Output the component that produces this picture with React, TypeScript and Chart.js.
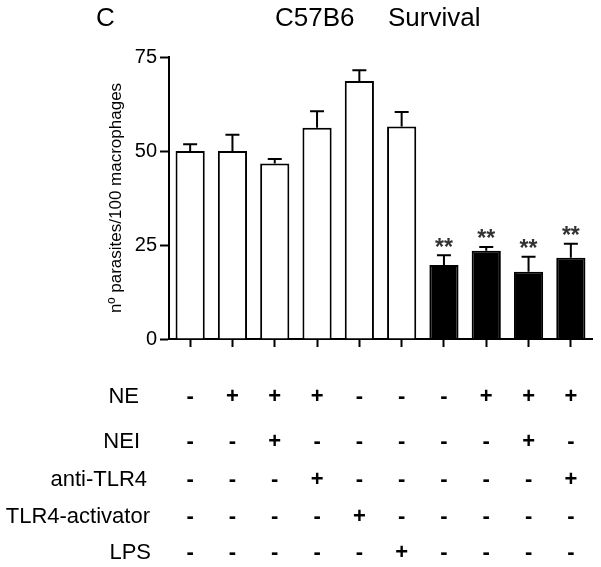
import React, { useEffect, useRef } from "react";
import { Chart, registerables } from "chart.js";

Chart.register(...registerables);

const categories = ["1", "2", "3", "4", "5", "6", "7", "8", "9", "10"];
const means = [50, 50, 46.7, 56.2, 68.6, 56.5, 19.7, 23.5, 17.9, 21.6];
const errors = [1.8, 4.3, 1.2, 4.4, 2.9, 3.9, 2.6, 1.0, 4.0, 3.7];
const significance = ["", "", "", "", "", "", "**", "**", "**", "**"];
const barFills = ["#ffffff", "#ffffff", "#ffffff", "#ffffff", "#ffffff", "#ffffff", "#000000", "#000000", "#000000", "#000000"];
const yTicks = [0, 25, 50, 75];
const yTitle = "nº parasites/100 macrophages";
const panelLetter = "C";
const titleLeft = "C57B6";
const titleRight = "Survival";
const rowLabels = ["NE", "NEI", "anti-TLR4", "TLR4-activator", "LPS"];
const rowNE = ["-", "+", "+", "+", "-", "-", "-", "+", "+", "+"];
const rowNEI = ["-", "-", "+", "-", "-", "-", "-", "-", "+", "-"];
const rowAntiTLR4 = ["-", "-", "-", "+", "-", "-", "-", "-", "-", "+"];
const rowActivator = ["-", "-", "-", "-", "+", "-", "-", "-", "-", "-"];
const rowLPS = ["-", "-", "-", "-", "-", "+", "-", "-", "-", "-"];
const tableRows = [rowNE, rowNEI, rowAntiTLR4, rowActivator, rowLPS];

const FONT = "'Liberation Sans', Arial, sans-serif";

const extrasPlugin = {
  id: "extras",
  afterDatasetsDraw(chart: any) {
    const { ctx } = chart;
    const meta = chart.getDatasetMeta(0);
    const y = chart.scales.y;
    const x = chart.scales.x;
    ctx.save();
    // error bars
    ctx.strokeStyle = "#000";
    ctx.lineWidth = 2;
    means.forEach((m, i) => {
      const bx = meta.data[i].x;
      const yTop = y.getPixelForValue(m);
      const yErr = y.getPixelForValue(m + errors[i]);
      ctx.beginPath();
      ctx.moveTo(bx, yTop);
      ctx.lineTo(bx, yErr);
      ctx.moveTo(bx - 7, yErr);
      ctx.lineTo(bx + 7, yErr);
      ctx.stroke();
      if (significance[i]) {
        ctx.fillStyle = "#333";
        ctx.font = `bold 23px ${FONT}`;
        ctx.textAlign = "center";
        ctx.textBaseline = "alphabetic";
        ctx.fillText(significance[i], bx, yErr - 0.5);
      }
    });
    // titles
    ctx.fillStyle = "#000";
    ctx.font = `26px ${FONT}`;
    ctx.textAlign = "left";
    ctx.textBaseline = "alphabetic";
    ctx.fillText(panelLetter, 96, 26);
    ctx.fillText(titleLeft, 275, 26);
    ctx.fillText(titleRight, 388, 26);
    // table
    const rowY = [397, 442, 480, 517, 553];
    const rowRight = [139, 140, 147, 150, 151];
    rowLabels.forEach((lab, r) => {
      ctx.font = `22px ${FONT}`;
      ctx.textAlign = "right";
      ctx.textBaseline = "middle";
      ctx.fillStyle = "#000";
      ctx.fillText(lab, rowRight[r], rowY[r]);
      ctx.font = `bold 22px ${FONT}`;
      ctx.textAlign = "center";
      tableRows[r].forEach((s, i) => {
        ctx.fillText(s, x.getPixelForValue(i), rowY[r]);
      });
    });
    ctx.restore();
  },
};

export default function App() {
  const ref = useRef<HTMLCanvasElement | null>(null);
  useEffect(() => {
    if (!ref.current) return;
    const chart = new Chart(ref.current, {
      type: "bar",
      data: {
        labels: categories,
        datasets: [
          {
            data: means,
            backgroundColor: barFills,
            borderColor: "#000",
            borderWidth: 2,
            barPercentage: 0.69,
            categoryPercentage: 1,
          },
        ],
      },
      options: {
        responsive: false,
        animation: false,
        layout: { padding: { top: 57, right: 9, bottom: 220, left: 0 } },
        plugins: { legend: { display: false }, tooltip: { enabled: false }, title: { display: false } },
        scales: {
          x: {
            offset: true,
            grid: { display: true, offset: false, drawOnChartArea: false, drawTicks: true, tickLength: 8, tickColor: "#000", tickWidth: 2 },
            border: { display: true, color: "#000", width: 2 },
            ticks: { display: false },
          },
          y: {
            min: 0,
            max: 75,
            afterBuildTicks: (scale: any) => {
              scale.ticks = yTicks.map((v) => ({ value: v }));
            },
            afterFit: (scale: any) => {
              scale.width = 169;
            },
            ticks: { color: "#000", font: { family: FONT, size: 20 }, padding: 3 },
            grid: { display: true, drawOnChartArea: false, drawTicks: true, tickLength: 9, tickColor: "#000", tickWidth: 2 },
            border: { display: true, color: "#000", width: 2 },
            title: {
              display: true,
              text: yTitle,
              color: "#000",
              font: { family: FONT, size: 17 },
              padding: { top: 106, bottom: 0 },
            },
          },
        },
      },
      plugins: [extrasPlugin],
    });
    return () => chart.destroy();
  }, []);
  return (
    <div style={{ position: "absolute", left: 0, top: 0, width: 601, height: 567, background: "#fff" }}>
      <canvas ref={ref} width={601} height={567} />
    </div>
  );
}
